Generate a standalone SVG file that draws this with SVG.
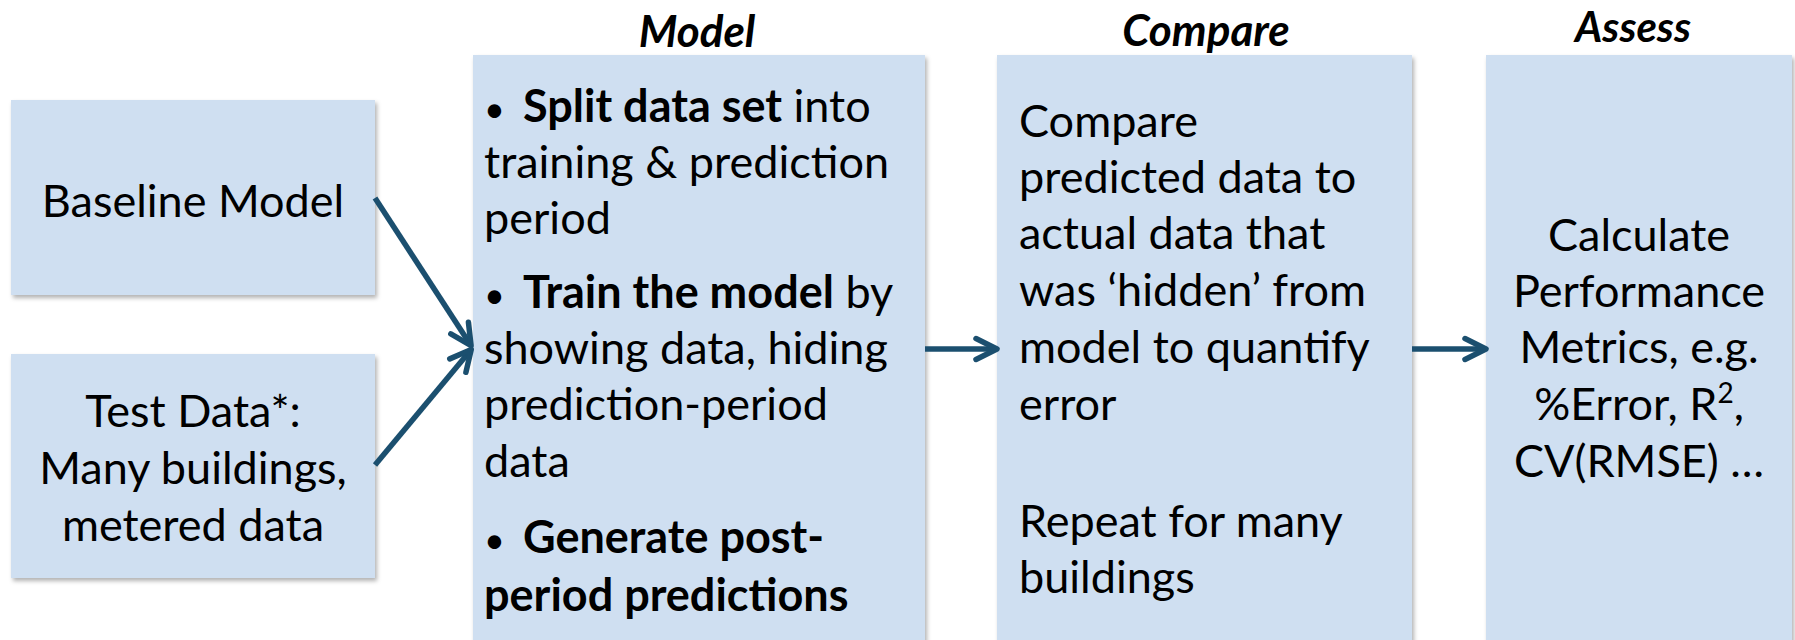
<svg xmlns="http://www.w3.org/2000/svg" width="1795" height="640" viewBox="0 0 1795 640">
<style>
.box{fill:#CFDFF1;filter:url(#sh)}
.t{font-family:Lato,"Liberation Sans",sans-serif;font-size:45px;fill:#000}
.c{text-anchor:middle}
.b{font-weight:bold}
.bu{font-size:36px}
.h{font-family:Lato,"Liberation Sans",sans-serif;font-size:44px;font-weight:bold;font-style:italic;text-anchor:middle;fill:#000}
.ar{fill:none;stroke:#1B4F6F;stroke-width:5.5;marker-end:url(#ah)}
</style>
<defs>
<filter id="sh" x="-5%" y="-5%" width="115%" height="115%">
<feDropShadow dx="2" dy="3" stdDeviation="2" flood-color="#000" flood-opacity="0.3"/>
</filter>
<marker id="ah" markerUnits="userSpaceOnUse" viewBox="-30 -20 40 40" markerWidth="40" markerHeight="40" refX="0" refY="0" orient="auto">
<path d="M-19,-10.5 L2,0 L-19,10.5" fill="none" stroke="#1B4F6F" stroke-width="5.5" stroke-linecap="round" stroke-linejoin="round"/>
</marker>
</defs>
<rect width="1795" height="640" fill="#fff"/>

<g id="baseline">
<rect class="box" x="11" y="100" width="364" height="195"/>
<text class="t c" x="193" y="217">Baseline Model</text>
</g>

<g id="testdata">
<rect class="box" x="11" y="354" width="364" height="224"/>
<text class="t c" x="193" y="427">Test Data*:</text>
<text class="t c" x="193" y="484">Many buildings,</text>
<text class="t c" x="193" y="541">metered data</text>
</g>

<g id="model">
<text class="h" x="697" y="47">Model</text>
<rect class="box" x="473" y="55" width="452" height="600"/>
<text class="t" x="484" y="122"><tspan class="bu">•</tspan><tspan x="523" class="b">Split data set</tspan> into</text>
<text class="t" x="484" y="178">training &amp; prediction</text>
<text class="t" x="484" y="234">period</text>
<text class="t" x="484" y="308"><tspan class="bu">•</tspan><tspan x="523" class="b">Train the model</tspan> by</text>
<text class="t" x="484" y="364">showing data, hiding</text>
<text class="t" x="484" y="420">prediction-period</text>
<text class="t" x="484" y="477">data</text>
<text class="t" x="484" y="553"><tspan class="bu">•</tspan><tspan x="523" class="b">Generate post-</tspan></text>
<text class="t b" x="484" y="611">period predictions</text>
</g>

<g id="compare">
<text class="h" x="1206" y="46">Compare</text>
<rect class="box" x="997" y="55" width="415" height="600"/>
<text class="t" x="1019" y="137">Compare</text>
<text class="t" x="1019" y="193">predicted data to</text>
<text class="t" x="1019" y="249">actual data that</text>
<text class="t" x="1019" y="306">was ‘hidden’ from</text>
<text class="t" x="1019" y="363">model to quantify</text>
<text class="t" x="1019" y="420">error</text>
<text class="t" x="1019" y="537">Repeat for many</text>
<text class="t" x="1019" y="593">buildings</text>
</g>

<g id="assess">
<text class="h" x="1633" y="42" style="font-size:42px">Assess</text>
<rect class="box" x="1486" y="55" width="306" height="600"/>
<text class="t c" x="1639" y="251">Calculate</text>
<text class="t c" x="1639" y="307">Performance</text>
<text class="t c" x="1639" y="363">Metrics, e.g.</text>
<text class="t c" x="1639" y="420">%Error, R<tspan dy="-17" font-size="28">2</tspan><tspan dy="17">,</tspan></text>
<text class="t c" x="1639" y="477">CV(RMSE) …</text>
</g>

<g id="connectors">
<path class="ar" d="M375,198 L470,344"/>
<path class="ar" d="M375,465 L470,351"/>
<path class="ar" d="M925,349 L995,349"/>
<path class="ar" d="M1412,349 L1484,349"/>
</g>
</svg>
